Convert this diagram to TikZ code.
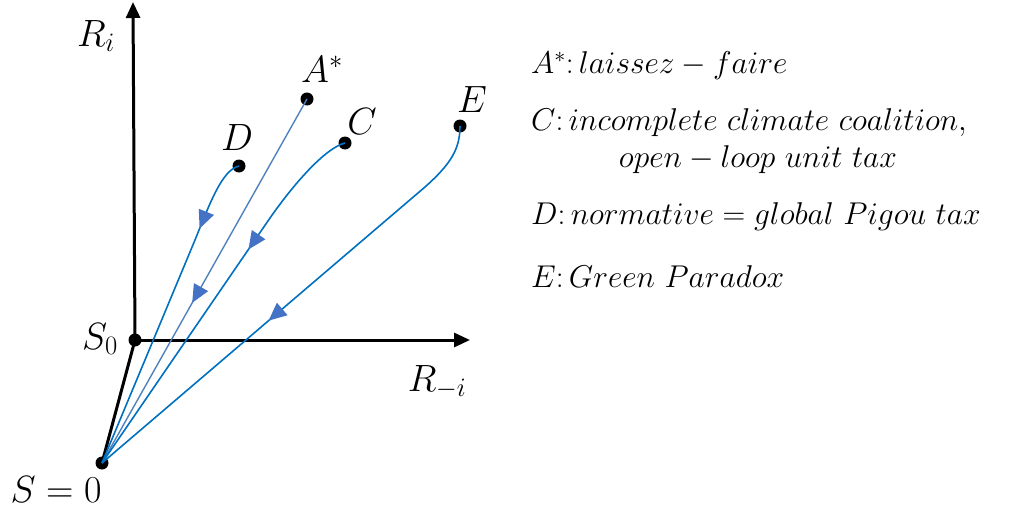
\RequirePackage{fix-cm}
\documentclass[tikz,border=0pt]{standalone}
\usetikzlibrary{arrows.meta,decorations.markings}
\definecolor{curveblue}{HTML}{0070C0}
\definecolor{lineblue}{HTML}{4F81BD}
\definecolor{tipblue}{HTML}{4472C4}
\begin{document}
\begin{tikzpicture}[x=1pt,y=-1pt,
  dot/.style={circle,fill=black,inner sep=0pt,minimum size=13pt},
  axis/.style={line width=3pt,-{Triangle[length=16pt,width=14pt]}},
  lbl/.style={inner sep=0pt,font=\fontsize{38}{42}\selectfont},
  legend/.style={inner sep=0pt,anchor=west,font=\fontsize{31.5}{36}\selectfont},
  path/.style={draw=curveblue,line width=1.6pt},
  midarrow/.style={postaction={decorate},decoration={markings,
     mark=at position #1 with {\arrow{Triangle[length=18pt,width=16pt,fill=tipblue,color=tipblue]}}}}
]
\useasboundingbox (0,0) rectangle (1010,511);
% points
\node[dot] (S0) at (135,340) {};
\node[dot] (S) at (102,463) {};
\node[dot] (A) at (307,99) {};
\node[dot] (D) at (239,166) {};
\node[dot] (C) at (345,143) {};
\node[dot] (E) at (460,126) {};
\coordinate (ytop) at (133,2);
\coordinate (xend) at (470,340);
% axes
\draw[axis] (S0.center) -- (ytop);
\draw[axis] (S0.center) -- (xend);
\draw[line width=3pt] (S0.center) -- (S.center);
% paths
\draw[draw=lineblue,line width=1.4pt,midarrow=0.56] (A.center) -- (S.center);
\draw[path,midarrow=0.23] (D.center) .. controls (222,170) and (210,203) .. (195,240) -- (S.center);
\draw[path,midarrow=0.36] (C.center) .. controls (325,148) and (293,185) .. (270,218) -- (S.center);
\draw[path,midarrow=0.56] (E.center) .. controls (460,148) and (452,163) .. (425,187) -- (S.center);
% labels
\node[lbl] (lRi) at (96,36) {$R_i$};
\node[lbl] (lA) at (322,69) {$A^{*}$};
\node[lbl] (lD) at (237,138) {$D$};
\node[lbl] (lC) at (362,122) {$C$};
\node[lbl] (lE) at (472,100) {$E$};
\node[lbl] (lS0) at (100,339) {$S_0$};
\node[lbl] (lRmi) at (437,382) {$R_{-i}$};
\node[lbl] (lS) at (56,490) {$S=0$};
% legend
\node[legend] (t1) at (531,66) {$A^{*}\colon laissez-faire$};
\node[legend] (t2) at (531,123) {$C\colon incomplete\ climate\ coalition,$};
\node[legend,anchor=center] (t3) at (758,160) {$open-loop\ unit\ tax$};
\node[legend] (t4) at (531,217) {$D\colon normative=global\ Pigou\ tax$};
\node[legend] (t5) at (531,277) {$E\colon Green\ Paradox$};
\end{tikzpicture}
\end{document}
